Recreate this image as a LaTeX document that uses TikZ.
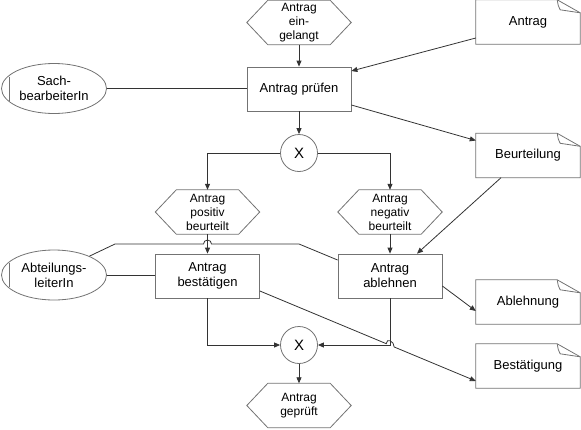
\documentclass[tikz,border=0pt]{standalone}
\usepackage{fontspec}
\setmainfont{Liberation Sans}
\usetikzlibrary{arrows.meta,shapes.geometric,calc}
\begin{document}
\begin{tikzpicture}[x=1pt,y=-1pt,
  shp/.style={draw=black!55, line width=0.8pt},
  conn/.style={draw=black!80, line width=0.8pt},
  arr/.style={conn, -{Triangle[length=6pt,width=5pt]}},
  fnbox/.style={shp, rectangle, minimum width=104pt, minimum height=44pt, inner sep=0pt, align=center, font=\fontsize{13}{15}\selectfont},
  evtnode/.style={rectangle, minimum width=104pt, minimum height=44pt, inner sep=0pt, align=center, font=\fontsize{12}{14}\selectfont},
  docnode/.style={rectangle, minimum width=104pt, minimum height=44pt, inner sep=0pt, align=center, font=\fontsize{13}{15}\selectfont},
  rolenode/.style={shp, ellipse, minimum width=105pt, minimum height=50pt, inner sep=0pt, align=center, font=\fontsize{13}{15}\selectfont},
  xornode/.style={shp, circle, minimum size=37pt, inner sep=0pt, font=\fontsize{15}{17}\selectfont},
]
\useasboundingbox (0,0) rectangle (581,429);

\node[evtnode] (ev1) at (299,22.5) {Antrag\\ein-\\gelangt};
\node[fnbox] (f1) at (299,89) {Antrag prüfen};
\node[docnode] (d1) at (528,22) {Antrag};
\node[rolenode] (r1) at (54,88.5) {Sach-\\bearbeiterIn};
\node[xornode] (x1) at (299,153) {X};
\node[docnode] (d2) at (528,155.5) {Beurteilung};
\node[evtnode] (ev2) at (207.5,212) {Antrag\\positiv\\beurteilt};
\node[evtnode] (ev3) at (390,212) {Antrag\\negativ\\beurteilt};
\node[fnbox] (f2) at (207.5,276) {Antrag\\bestätigen};
\node[fnbox] (f3) at (390,276) {Antrag\\ablehnen};
\node[rolenode] (r2) at (54,275) {Abteilungs-\\leiterIn};
\node[docnode] (d3) at (528,302) {Ablehnung};
\node[docnode] (d4) at (528,366) {Bestätigung};
\node[xornode] (x2) at (299,345) {X};
\node[evtnode] (ev4) at (299,405.5) {Antrag\\geprüft};

% event hexagons
\foreach \n in {ev1,ev2,ev3,ev4}
  \draw[shp] (\n.west) -- ([xshift=21pt]\n.north west) -- ([xshift=-21pt]\n.north east)
    -- (\n.east) -- ([xshift=-21pt]\n.south east) -- ([xshift=21pt]\n.south west) -- cycle;

% documents
\foreach \n in {d1,d2,d3,d4}{
  \draw[shp] (\n.north west) -- ([xshift=-23pt]\n.north east) -- ([yshift=-13pt]\n.north east)
    -- (\n.south east) -- (\n.south west) -- cycle;
  \draw[shp] ([xshift=-23pt]\n.north east) .. controls ([xshift=-22pt,yshift=-6pt]\n.north east) .. ([xshift=-20pt,yshift=-10pt]\n.north east) -- ([yshift=-13pt]\n.north east);
}

% role marks
\foreach \n in {r1,r2}
  \draw[shp] ([xshift=-45pt,yshift=12pt]\n.center) -- ([xshift=-45pt,yshift=-12pt]\n.center);

% connectors
\draw[arr] (ev1) -- (f1);
\draw[conn] (r1.east) -- (r1.east -| f1.west);
\draw[arr] ([yshift=-16pt]d1.west) -- ([yshift=18pt]f1.east);
\draw[arr] ([yshift=-16pt]f1.east) -- ([yshift=15pt]d2.west);
\draw[arr] (f1) -- (x1);
\draw[arr] (x1.west) -| (ev2.north);
\draw[arr] (x1.east) -| (ev3.north);
\draw[arr] (ev2) -- (f2);
\draw[arr] (ev3) -- (f3);
\draw[arr] ([xshift=-27pt]d2.south) -- ([xshift=27pt]f3.north);
\draw[arr] ([yshift=-10pt]f3.east) -- ([yshift=-9pt]d3.west);

\path ([yshift=-15pt]f2.east) coordinate (bs) ([yshift=-15pt]d4.west) coordinate (be);
\path ($(bs)!0.5853!(be)$) coordinate (hb1) ($(bs)!0.6221!(be)$) coordinate (hb2);
\draw[arr] (bs) -- (hb1) .. controls ([yshift=6pt]hb1) and ([yshift=6pt]hb2) .. (hb2) -- (be);

\draw[conn] (r2.28) -- (115,244) -- (203.5,244) arc[start angle=180,end angle=0,radius=4pt]
  -- (299,244) -- ([yshift=16pt]f3.west);
\draw[conn] (r2.east) -- (r2.east -| f2.west);

\draw[arr] (f2.south) |- (x2.west);
\draw[arr] (f3.south) |- (x2.east);
\draw[arr] (x2) -- (ev4);
\end{tikzpicture}
\end{document}
